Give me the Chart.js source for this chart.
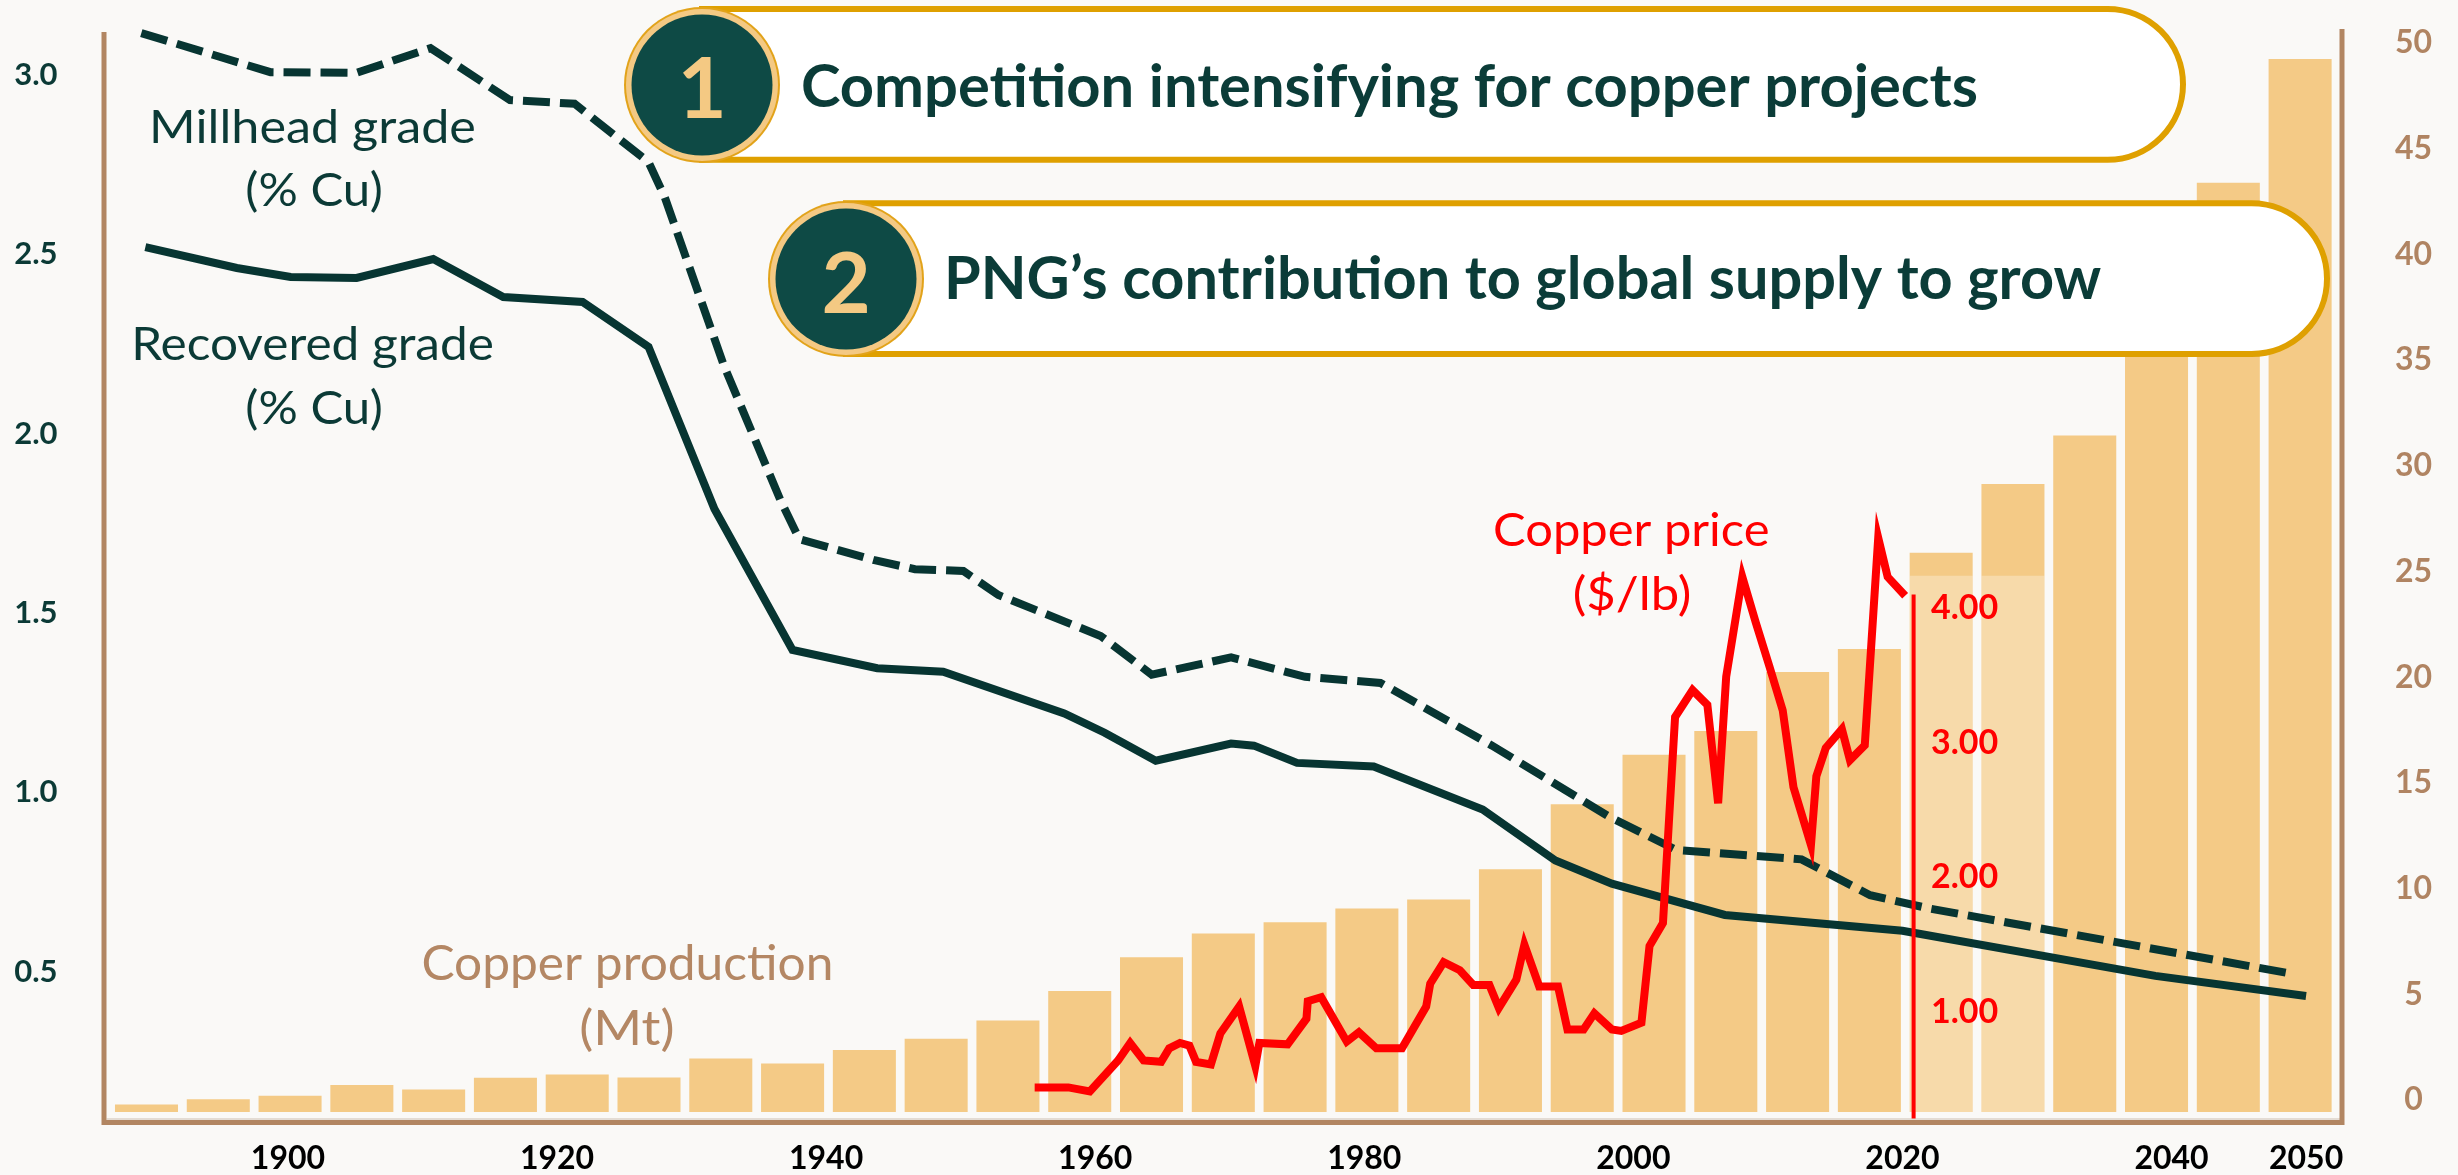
<!DOCTYPE html>
<html>
<head>
<meta charset="utf-8">
<script src="https://cdn.jsdelivr.net/npm/chart.js@4.4.1/dist/chart.umd.min.js"></script>
<style>
html,body{margin:0;padding:0;background:#FAF9F7;overflow:hidden}
canvas{display:block}
</style>
</head>
<body>
<canvas id="c" width="2458" height="1175"></canvas>
<script>
// ---------------- DATA ----------------
// Copper production bars (Mt), one bar per period
const barCategories = ['1890','1895','1900','1906','1911','1916','1922','1927','1932','1938','1943','1948','1954','1959','1964','1970','1975','1980','1986','1991','1996','2002','2007','2012','2018','2023','2028','2034','2039','2044','2050'];
const productionMt = [0.36,0.60,0.77,1.28,1.07,1.62,1.77,1.63,2.53,2.30,2.93,3.46,4.33,5.72,7.32,8.44,8.98,9.63,10.05,11.48,14.56,16.90,18.02,20.81,21.90,26.46,29.71,32.0,37.5,43.96,49.81];
// lighter (PNG contribution) portion on the first projected bars
const pngPortionMt = [null,null,null,null,null,null,null,null,null,null,null,null,null,null,null,null,null,null,null,null,null,null,null,null,null,25.37,25.37,null,null,null,null];

// Millhead grade (% Cu)
const millYears = [1889.1,1898.7,1905.1,1910.6,1916.5,1921.3,1926.8,1928.0,1932.4,1936.6,1938.0,1943.6,1946.6,1950.2,1952.8,1960.4,1964.2,1970.1,1975.6,1981.2,1989.5,1998.2,2003.2,2012.5,2017.6,2022.0,2036.5,2049.1];
const millGrade = [3.117,3.008,3.006,3.075,2.930,2.920,2.757,2.660,2.190,1.815,1.706,1.647,1.622,1.617,1.550,1.436,1.328,1.376,1.322,1.305,1.130,0.932,0.839,0.813,0.713,0.676,0.578,0.493];

// Recovered grade (% Cu)
const recYears = [1889.4,1896.2,1900.2,1905.1,1910.8,1916.0,1921.9,1926.8,1931.7,1937.5,1943.8,1948.7,1957.7,1960.7,1964.5,1970.1,1971.8,1975.0,1980.7,1988.8,1994.2,1998.4,2006.8,2020.0,2038.8,2050.0];
const recGrade = [2.520,2.462,2.437,2.434,2.487,2.381,2.367,2.242,1.790,1.397,1.346,1.336,1.220,1.166,1.088,1.136,1.130,1.082,1.072,0.952,0.810,0.745,0.658,0.614,0.488,0.432];

// Copper price ($/lb)
const priceYears = [1955.5,1958.0,1959.6,1961.7,1962.6,1963.6,1964.9,1965.5,1966.3,1967.0,1967.5,1968.6,1969.3,1970.7,1971.9,1972.2,1974.3,1975.7,1975.8,1976.8,1978.7,1979.6,1980.9,1982.8,1984.6,1984.9,1985.9,1987.1,1988.1,1989.3,1990.0,1991.3,1991.9,1993.0,1994.4,1995.1,1996.3,1997.1,1998.4,1999.1,2000.6,2001.2,2002.2,2003.1,2004.4,2005.5,2006.3,2006.9,2008.1,2009.1,2010.1,2011.1,2011.9,2013.2,2013.6,2014.3,2015.5,2016.1,2017.2,2018.2,2018.9,2020.2];
const priceUsd = [0.44,0.44,0.41,0.64,0.77,0.64,0.63,0.73,0.77,0.75,0.63,0.61,0.84,1.04,0.60,0.77,0.76,0.95,1.08,1.11,0.78,0.85,0.73,0.73,1.04,1.21,1.37,1.31,1.20,1.20,1.03,1.24,1.50,1.19,1.19,0.87,0.87,0.99,0.87,0.86,0.92,1.49,1.66,3.19,3.39,3.28,2.55,3.49,4.23,3.89,3.57,3.24,2.67,2.24,2.75,2.96,3.10,2.87,2.98,4.52,4.23,4.09];

// "today" marker on the price axis
const markerYear = 2020.83;
const markerPrice = [0.21, 4.10];

// tick labels
const yearTicks = [1900,1920,1940,1960,1980,2000,2020,2040,2050];
const gradeTicks = [0.5,1.0,1.5,2.0,2.5,3.0];
const prodTicks = [0,5,10,15,20,25,30,35,40,45,50];
const priceTicks = [1,2,3,4];

// texts
const callout1 = 'Competition intensifying for copper projects';
const callout2 = 'PNG\u2019s contribution to global supply to grow';

// ---------------- STYLE ----------------
const FONT = 'Lato, "Open Sans", sans-serif';
const TEAL = '#073532';
const TEAL_TXT = '#0B3A36';
const BROWN = '#B28662';
const BAR = '#F4CA86';
const RED = '#FF0000';
const GOLD = '#DFA000';

const toXY = (xs, ys) => xs.map((x, i) => ({x: x, y: ys[i]}));

function inkText(ctx, text, cx, base, size, weight, color, targetW) {
  ctx.save();
  ctx.font = weight + ' ' + size + 'px ' + FONT;
  ctx.textAlign = 'left';
  ctx.textBaseline = 'alphabetic';
  const m = ctx.measureText(text);
  const L = m.actualBoundingBoxLeft, R = m.actualBoundingBoxRight;
  const w = L + R;
  const sx = targetW ? targetW / w : 1;
  ctx.translate(cx, base);
  ctx.scale(sx, 1);
  ctx.fillStyle = color;
  ctx.fillText(text, -w / 2 + L, 0);
  ctx.restore();
}

function pill(ctx, x0, y0, x1, y1) {
  const r = (y1 - y0) / 2;
  ctx.beginPath();
  ctx.moveTo(x0, y0);
  ctx.lineTo(x1 - r, y0);
  ctx.arc(x1 - r, y0 + r, r, -Math.PI / 2, Math.PI / 2);
  ctx.lineTo(x0, y1);
  ctx.closePath();
  ctx.fillStyle = '#FFFFFF';
  ctx.fill();
  ctx.lineWidth = 6;
  ctx.strokeStyle = GOLD;
  ctx.stroke();
}

function badge(ctx, cx, cy, label, base) {
  ctx.beginPath(); ctx.arc(cx, cy, 78, 0, Math.PI * 2); ctx.fillStyle = '#E2A31A'; ctx.fill();
  ctx.beginPath(); ctx.arc(cx, cy, 76, 0, Math.PI * 2); ctx.fillStyle = '#F4C983'; ctx.fill();
  ctx.beginPath(); ctx.arc(cx, cy, 70.5, 0, Math.PI * 2); ctx.fillStyle = '#0E4A45'; ctx.fill();
  inkText(ctx, label, cx, base, 85, 'bold', '#F4C983', 0);
}

const decor = {
  id: 'decor',
  beforeDraw(chart) {
    const ctx = chart.ctx;
    ctx.save();
    ctx.fillStyle = '#FAF9F7';
    ctx.fillRect(0, 0, chart.width, chart.height);
    ctx.restore();
  },
  beforeDatasetsDraw(chart) {
    const ctx = chart.ctx, ca = chart.chartArea;
    ctx.save();
    ctx.strokeStyle = '#DDD2C8';
    ctx.lineWidth = 1.5;
    ctx.beginPath(); ctx.moveTo(ca.left - 4, ca.bottom + 7); ctx.lineTo(ca.right + 4, ca.bottom + 7); ctx.stroke();
    ctx.strokeStyle = BROWN;
    ctx.lineWidth = 5;
    ctx.lineCap = 'butt';
    ctx.beginPath();
    ctx.moveTo(ca.left - 6.6, ca.top + 12);
    ctx.lineTo(ca.left - 6.6, ca.bottom + 13);
    ctx.moveTo(ca.left - 9, ca.bottom + 10.5);
    ctx.lineTo(ca.right + 8.5, ca.bottom + 10.5);
    ctx.moveTo(ca.right + 6, ca.top + 9);
    ctx.lineTo(ca.right + 6, ca.bottom + 13);
    ctx.stroke();
    ctx.restore();
  },
  afterDatasetsDraw(chart) {
    const ctx = chart.ctx;
    const xs = chart.scales.x, ps = chart.scales.ypr;
    const lx = xs.getPixelForValue(markerYear) + 51;
    ctx.save();
    ctx.font = 'bold 34px ' + FONT;
    ctx.fillStyle = RED;
    ctx.textAlign = 'center';
    ctx.textBaseline = 'middle';
    priceTicks.forEach(v => ctx.fillText(v.toFixed(2), lx, ps.getPixelForValue(v)));
    ctx.restore();
  },
  afterDraw(chart) {
    const ctx = chart.ctx;
    ctx.save();
    inkText(ctx, 'Millhead grade', 314, 143, 46, 'normal', TEAL_TXT, 321);
    inkText(ctx, '(% Cu)', 314.5, 206, 46, 'normal', TEAL_TXT, 134);
    inkText(ctx, 'Recovered grade', 314, 360, 46, 'normal', TEAL_TXT, 357);
    inkText(ctx, '(% Cu)', 314.5, 424, 46, 'normal', TEAL_TXT, 134);
    inkText(ctx, 'Copper production', 627, 980, 48, 'normal', '#B48764', 407);
    inkText(ctx, '(Mt)', 627, 1045, 48, 'normal', '#B48764', 91);
    inkText(ctx, 'Copper price', 1631.7, 546, 46, 'normal', RED, 273);
    inkText(ctx, '($/lb)', 1632.5, 610, 46, 'normal', RED, 115);
    pill(ctx, 702, 8.9, 2183, 159.7);
    badge(ctx, 702, 85, '1', 117.5);
    inkText(ctx, callout1, (803 + 1977) / 2, 106.7, 59, 'bold', '#0B3C38', 1977 - 803);
    pill(ctx, 846, 203.3, 2327, 354);
    badge(ctx, 846, 279, '2', 312.5);
    inkText(ctx, callout2, (948 + 2101) / 2, 298.5, 59, 'bold', '#0B3C38', 2101 - 948);
    ctx.restore();
  }
};

const tickFix = (list) => (scale) => { scale.ticks = list.map(v => ({value: v})); };
const fitTo = (prop, size) => (s) => {
  s[prop] = size;
  s.paddingTop = 0; s.paddingBottom = 0; s.paddingLeft = 0; s.paddingRight = 0;
};

new Chart(document.getElementById('c'), {
  type: 'bar',
  data: {
    labels: barCategories,
    datasets: [
      {
        type: 'line', label: 'Copper price ($/lb)',
        data: toXY(priceYears, priceUsd),
        xAxisID: 'x', yAxisID: 'ypr',
        borderColor: RED, borderWidth: 8, pointRadius: 0, tension: 0,
        borderJoinStyle: 'miter', clip: false, order: 0
      },
      {
        type: 'line', label: 'Today',
        data: [{x: markerYear, y: markerPrice[0]}, {x: markerYear, y: markerPrice[1]}],
        xAxisID: 'x', yAxisID: 'ypr',
        borderColor: RED, borderWidth: 4, pointRadius: 0, clip: false, order: 0
      },
      {
        type: 'line', label: 'Millhead grade (% Cu)',
        data: toXY(millYears, millGrade),
        xAxisID: 'x', yAxisID: 'y',
        borderColor: TEAL, borderWidth: 8, borderDash: [27, 10], borderCapStyle: 'butt',
        pointRadius: 0, tension: 0, clip: false, order: 1
      },
      {
        type: 'line', label: 'Recovered grade (% Cu)',
        data: toXY(recYears, recGrade),
        xAxisID: 'x', yAxisID: 'y',
        borderColor: TEAL, borderWidth: 8,
        pointRadius: 0, tension: 0, clip: false, order: 1
      },
      {
        type: 'bar', label: 'PNG portion',
        data: pngPortionMt,
        xAxisID: 'xb', yAxisID: 'yp',
        backgroundColor: 'rgba(255,255,255,0.30)', borderWidth: 0,
        grouped: false, barPercentage: 0.878, categoryPercentage: 1.0, order: 2
      },
      {
        type: 'bar', label: 'Copper production (Mt)',
        data: productionMt,
        xAxisID: 'xb', yAxisID: 'yp',
        backgroundColor: BAR, borderWidth: 0,
        grouped: false, barPercentage: 0.878, categoryPercentage: 1.0, order: 3
      }
    ]
  },
  options: {
    responsive: false,
    devicePixelRatio: 1,
    animation: false,
    events: [],
    layout: { padding: { top: 20, left: 0, right: 0, bottom: 0 } },
    plugins: { legend: { display: false }, tooltip: { enabled: false } },
    scales: {
      x: {
        type: 'linear', position: 'bottom', min: 1886.817, max: 2052.225, offset: false,
        grid: { display: false, drawTicks: false }, border: { display: false },
        afterBuildTicks: tickFix(yearTicks),
        afterFit: fitTo('height', 63),
        ticks: {
          autoSkip: false, maxRotation: 0, padding: 27, color: '#000000',
          font: { family: FONT, size: 32, weight: 'bold' },
          callback: (v) => String(v)
        }
      },
      xb: {
        type: 'category', display: false, offset: true,
        grid: { display: false, offset: true }
      },
      y: {
        type: 'linear', position: 'left', min: 0.1085, max: 3.1534, beginAtZero: false,
        grid: { display: false, drawTicks: false }, border: { display: false },
        afterBuildTicks: tickFix(gradeTicks),
        afterFit: fitTo('width', 110.6),
        ticks: {
          crossAlign: 'center', padding: 53, color: TEAL_TXT,
          font: { family: FONT, size: 31, weight: 'bold' },
          callback: (v) => Number(v).toFixed(1)
        }
      },
      yp: {
        type: 'linear', position: 'right', min: 0, max: 51.656, beginAtZero: false,
        grid: { display: false, drawTicks: false }, border: { display: false },
        afterBuildTicks: tickFix(prodTicks),
        afterFit: fitTo('width', 122),
        ticks: {
          crossAlign: 'center', padding: 59, labelOffset: -12, color: '#B08462',
          font: { family: FONT, size: 32, weight: 'bold' },
          callback: (v) => String(v)
        }
      },
      ypr: {
        type: 'linear', display: false, min: 0.2576, max: 8.3645, beginAtZero: false
      }
    }
  },
  plugins: [decor]
});
</script>
</body>
</html>
